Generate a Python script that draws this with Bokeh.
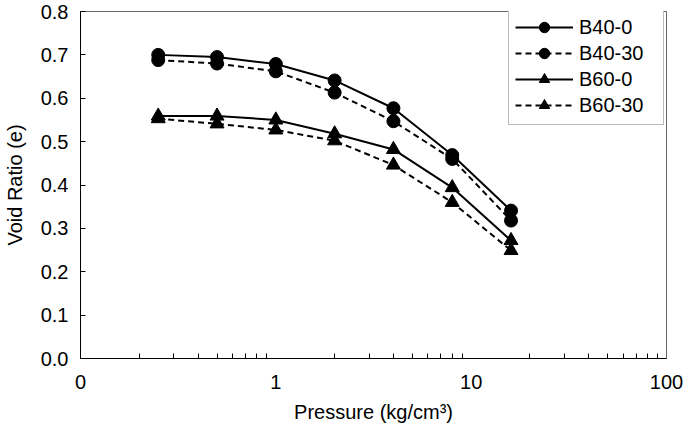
from bokeh.plotting import figure
from bokeh.models import Range1d, FixedTicker, Legend, LegendItem, PrintfTickFormatter
from bokeh.embed import file_html
from bokeh.resources import INLINE

pressure = [0.25, 0.5, 1, 2, 4, 8, 16]
b40_0 = [0.700, 0.695, 0.679, 0.641, 0.577, 0.469, 0.341]
b40_30 = [0.688, 0.680, 0.662, 0.613, 0.547, 0.460, 0.318]
b60_0 = [0.559, 0.559, 0.550, 0.518, 0.482, 0.394, 0.272]
b60_30 = [0.553, 0.541, 0.527, 0.502, 0.446, 0.360, 0.249]
x_major = [0.1, 1, 10, 100]
x_labels = {0.1: "0", 1: "1", 10: "10", 100: "100"}
x_minor = [0.2, 0.3, 0.4, 0.5, 0.6, 0.7, 0.8, 0.9, 2, 3, 4, 5, 6, 7, 8, 9,
           20, 30, 40, 50, 60, 70, 80, 90]
y_ticks = [0, 0.1, 0.2, 0.3, 0.4, 0.5, 0.6, 0.7, 0.8]
x_title = "Pressure (kg/cm³)"
y_title = "Void Ratio (e)"

FONT = "Liberation Sans"

p = figure(width=685, height=435, x_axis_type="log",
           x_range=Range1d(0.1, 100), y_range=Range1d(0, 0.8),
           output_backend="svg", toolbar_location=None,
           min_border_left=78, min_border_right=19, min_border_top=11, min_border_bottom=77)
p.xgrid.visible = False
p.ygrid.visible = False
p.outline_line_color = "#666666"
p.outline_line_width = 1

p.xaxis.ticker = FixedTicker(ticks=x_major, minor_ticks=x_minor)
p.xaxis.major_label_overrides = x_labels
p.xaxis.major_tick_in = 0
p.xaxis.major_tick_out = 0
p.xaxis.minor_tick_in = 5
p.xaxis.minor_tick_out = 0
p.xaxis.major_label_standoff = 16
p.xaxis.axis_label = x_title
p.xaxis.axis_label_standoff = 9

p.yaxis.ticker = FixedTicker(ticks=y_ticks)
p.yaxis.formatter = PrintfTickFormatter(format="%.1f")
p.yaxis.major_tick_in = 5
p.yaxis.major_tick_out = 0
p.yaxis.minor_tick_in = 0
p.yaxis.minor_tick_out = 0
p.yaxis.major_label_standoff = 12
p.yaxis.axis_label = y_title
p.yaxis.axis_label_standoff = 12

for ax in (p.xaxis, p.yaxis):
    ax.axis_line_color = "black"
    ax.major_tick_line_color = "black"
    ax.minor_tick_line_color = "black"
    ax.major_label_text_font = FONT
    ax.major_label_text_font_size = "20px"
    ax.major_label_text_color = "black"
    ax.axis_label_text_font = FONT
    ax.axis_label_text_font_size = "20px"
    ax.axis_label_text_font_style = "normal"
    ax.axis_label_text_color = "black"

series = [
    ("B40-0", b40_0, "solid", "circle", 13),
    ("B40-30", b40_30, "6 4", "circle", 13),
    ("B60-0", b60_0, "solid", "triangle", 14),
    ("B60-30", b60_30, "6 4", "triangle", 14),
]
items = []
for name, ys, dash, marker, size in series:
    ln = p.line(pressure, ys, line_color="black", line_width=2, line_dash=dash)
    sc = p.scatter(pressure, ys, marker=marker, size=size, fill_color="black", line_color="black")
    items.append(LegendItem(label=name, renderers=[ln, sc]))

legend = Legend(items=items, location=(428, 233), margin=0, padding=6, spacing=0,
                glyph_width=58, glyph_height=26, label_height=26, label_width=78,
                label_standoff=6, label_text_font=FONT, label_text_font_size="20px",
                label_text_color="black", border_line_color="#777777", border_line_width=1.5,
                background_fill_color="white", background_fill_alpha=1.0)
p.add_layout(legend)

open("out.html", "w").write(file_html(p, INLINE))
